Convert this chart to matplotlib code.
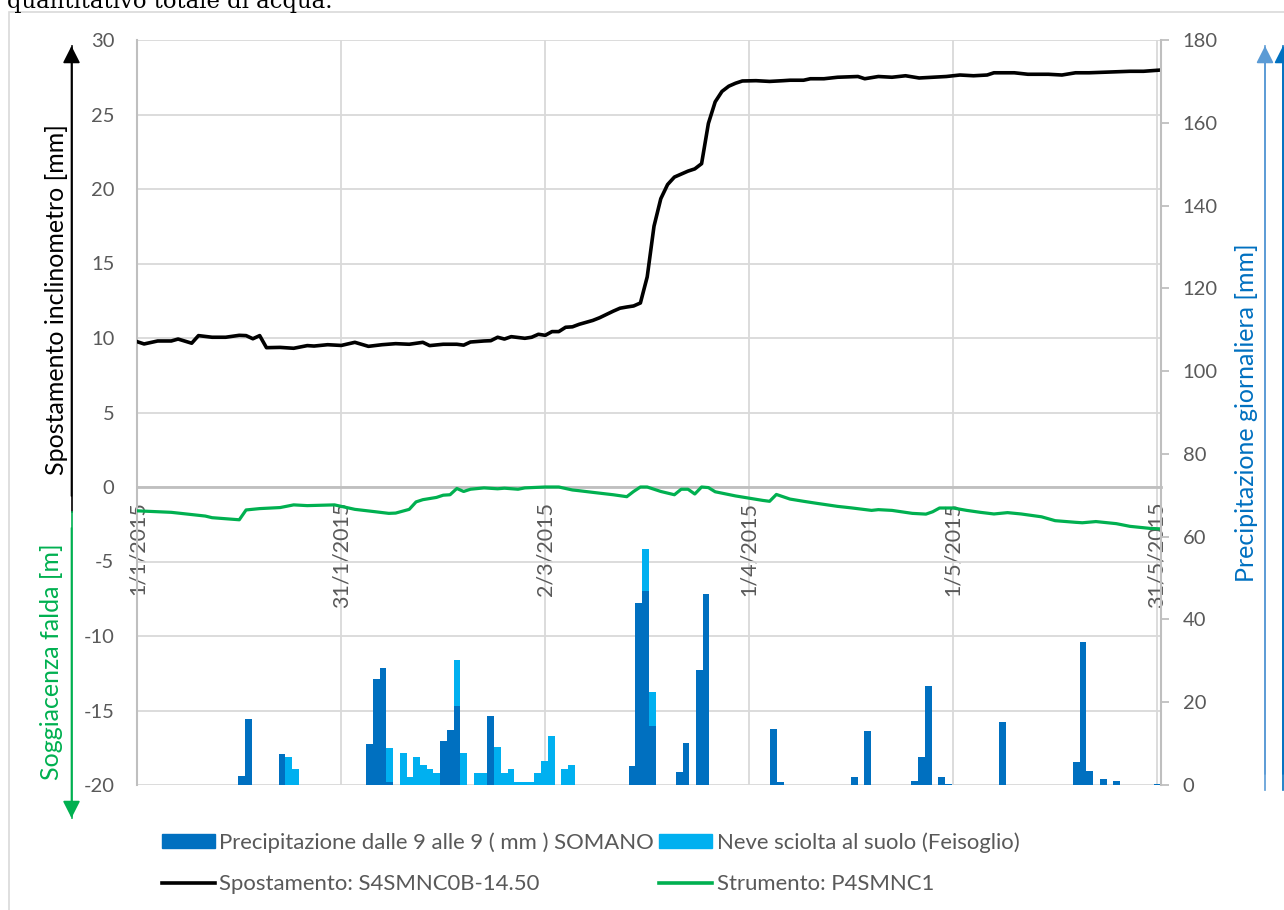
import numpy as np
import matplotlib
matplotlib.use('Agg')
import matplotlib.pyplot as plt
from matplotlib.patches import Patch, Rectangle
from matplotlib.lines import Line2D

plt.rcParams['font.family'] = ['Lato', 'DejaVu Sans']
plt.rcParams['axes.unicode_minus'] = False

GRIGIO = '#595959'

# Asse delle date (giorni dal 1/1/2015)
tick_giorni = [0, 30, 60, 90, 120, 150]
tick_date = ['1/1/2015', '31/1/2015', '2/3/2015', '1/4/2015', '1/5/2015', '31/5/2015']

# Spostamento inclinometro S4SMNC0B-14.50 [mm]
sp_giorni = [0, 1, 3, 5, 6, 8, 9, 11, 13, 15, 16, 17, 18, 19, 21, 23, 25, 26, 28, 30,
             32, 34, 36, 38, 40, 42, 43, 45, 47, 48, 49, 51, 52, 53, 54, 55, 57, 58, 59, 60,
             61, 62, 63, 64, 65, 67, 68, 70, 71, 72, 73, 74, 75, 76, 77, 78, 79, 80, 81, 82,
             83, 84, 85, 86, 87, 88, 89, 91, 93, 95, 96, 98, 99, 101, 103, 106, 107, 109, 111, 113,
             115, 117, 119, 121, 123, 125, 126, 129, 131, 134, 136, 138, 140, 143, 146, 148, 151]
sp_valori = [9.75, 9.6, 9.8, 9.8, 9.93, 9.65, 10.16, 10.05, 10.05, 10.18, 10.16, 9.95, 10.16, 9.35, 9.37, 9.31, 9.49, 9.46, 9.55, 9.5,
             9.71, 9.44, 9.55, 9.62, 9.58, 9.71, 9.49, 9.58, 9.58, 9.52, 9.73, 9.8, 9.82, 10.05, 9.93, 10.09, 9.98, 10.05, 10.25, 10.18,
             10.43, 10.43, 10.72, 10.75, 10.92, 11.18, 11.36, 11.8, 12.0, 12.08, 12.15, 12.35, 14.1, 17.5, 19.35, 20.3, 20.8, 21.0, 21.2, 21.35,
             21.7, 24.4, 25.85, 26.55, 26.9, 27.1, 27.25, 27.27, 27.22, 27.27, 27.3, 27.3, 27.4, 27.4, 27.5, 27.55, 27.4, 27.55, 27.5, 27.6,
             27.45, 27.5, 27.55, 27.65, 27.6, 27.65, 27.8, 27.8, 27.7, 27.7, 27.65, 27.8, 27.8, 27.85, 27.9, 27.9, 28.0]

# Soggiacenza falda P4SMNC1 [m]
fa_giorni = [0, 3, 5, 10, 11, 15, 16, 18, 21, 23, 25, 29, 30, 32, 35, 37, 38, 40, 41, 42,
             44, 45, 46, 47, 48, 49, 51, 53, 54, 56, 57, 60, 62, 64, 65, 67, 70, 72, 73, 74,
             75, 77, 79, 80, 81, 82, 83, 84, 85, 88, 90, 92, 93, 94, 96, 98, 100, 103, 105, 108,
             109, 111, 114, 116, 117, 118, 120, 122, 124, 126, 128, 130, 133, 135, 138, 139, 141, 144, 146, 149, 151]
fa_valori = [-1.6, -1.66, -1.7, -1.95, -2.06, -2.2, -1.54, -1.45, -1.38, -1.2, -1.25, -1.2, -1.3, -1.5, -1.66, -1.77, -1.75, -1.5, -1.0, -0.85,
             -0.7, -0.55, -0.52, -0.1, -0.3, -0.15, -0.06, -0.12, -0.08, -0.15, -0.06, 0.0, 0.0, -0.2, -0.25, -0.36, -0.52, -0.65, -0.3, 0.0,
             0.0, -0.3, -0.52, -0.15, -0.15, -0.47, 0.0, -0.04, -0.32, -0.6, -0.75, -0.9, -0.96, -0.5, -0.81, -0.96, -1.1, -1.3, -1.4, -1.57,
             -1.52, -1.57, -1.77, -1.82, -1.66, -1.41, -1.41, -1.57, -1.7, -1.81, -1.72, -1.81, -2.0, -2.26, -2.37, -2.4, -2.32, -2.46, -2.64, -2.78, -2.82]

# Precipitazione dalle 9 alle 9 (mm) SOMANO
pr_giorni = [15, 16, 21, 34, 35, 36, 37, 45, 46, 47, 52, 73, 74, 75, 76, 80, 81, 83, 84, 94,
             95, 106, 108, 115, 116, 117, 119, 120, 128, 139, 140, 141, 143, 145, 151]
pr_valori = [2.2, 15.9, 7.5, 9.9, 25.6, 28.2, 0.8, 10.6, 13.3, 19.1, 16.7, 4.7, 43.9, 46.9, 14.3, 3.2, 10.1, 27.8, 46.1, 13.5,
             0.8, 1.9, 13.0, 1.0, 6.8, 23.8, 1.9, 0.2, 15.3, 5.6, 34.5, 3.4, 1.4, 0.9, 0.3]

# Neve sciolta al suolo (Feisoglio) [mm]
nv_giorni = [22, 23, 37, 39, 40, 41, 42, 43, 44, 47, 48, 50, 51, 53, 54, 55, 56, 57, 58, 59,
             60, 61, 63, 64, 75, 76]
nv_valori = [6.8, 3.8, 8.1, 7.8, 2.0, 6.8, 4.8, 3.8, 2.8, 11.0, 7.8, 2.8, 2.8, 9.1, 2.8, 3.8, 0.8, 0.8, 0.8, 2.8,
             5.8, 11.8, 3.8, 4.8, 10.1, 8.2]

W, H = 1284, 910
fig = plt.figure(figsize=(W / 100, H / 100), dpi=100)


def fx(x):
    return x / W


def fy(y):
    return 1 - y / H


# area del grafico
x0, x1, y0, y1 = 137.3, 1160.5, 40, 785
rect = [fx(x0), fy(y1), fx(x1) - fx(x0), fy(y0) - fy(y1)]

ax = fig.add_axes(rect)
ax.set_xlim(0, 150.5)
ax.set_ylim(-20, 30)
ax.set_yticks(np.arange(-20, 31, 5))
ax.set_xticks(tick_giorni)
ax.set_xticklabels(tick_date)
ax.grid(True, color='#D9D9D9', lw=1.3)
ax.set_axisbelow(True)
for s in ['top', 'right']:
    ax.spines[s].set_visible(False)
ax.spines['left'].set_color('#BFBFBF')
ax.spines['left'].set_linewidth(1.5)
ax.spines['bottom'].set_position(('data', 0))
ax.spines['bottom'].set_color('#BFBFBF')
ax.spines['bottom'].set_linewidth(2)
ax.tick_params(axis='y', length=0, pad=16.5, labelsize=14.5, labelcolor=GRIGIO)
ax.tick_params(axis='x', length=0, pad=10.5, labelsize=15.5, labelcolor=GRIGIO, labelrotation=90)

ax.plot(sp_giorni, sp_valori, color='black', lw=2.6, solid_joinstyle='round', zorder=4)
ax.plot(fa_giorni, fa_valori, color='#00B050', lw=2.3, solid_joinstyle='round', zorder=4)

# istogramma su asse secondario (categorie giornaliere 1/1 - 1/6)
axb = fig.add_axes(rect)
axb.patch.set_visible(False)
axb.set_xlim(0, 152)
axb.set_ylim(0, 180)
axb.set_yticks(np.arange(0, 181, 20))
axb.yaxis.tick_right()
axb.xaxis.set_visible(False)
for s in ['top', 'left', 'bottom']:
    axb.spines[s].set_visible(False)
axb.spines['right'].set_color('#BFBFBF')
axb.spines['right'].set_linewidth(1.5)
axb.tick_params(axis='y', length=6, width=1.3, color='#BFBFBF', pad=10,
                labelsize=14.5, labelcolor=GRIGIO)

prec = dict(zip(pr_giorni, pr_valori))
base_neve = [prec.get(g, 0) for g in nv_giorni]
axb.bar(pr_giorni, pr_valori, width=1, align='edge', color='#0070C0', lw=0)
axb.bar(nv_giorni, nv_valori, width=1, align='edge', bottom=base_neve, color='#00B0F0', lw=0)

# titoli degli assi
fig.text(fx(57), fy(300), 'Spostamento inclinometro [mm]', rotation=90, ha='center', va='center',
         fontsize=18, color='black')
fig.text(fx(52), fy(662), 'Soggiacenza falda [m]', rotation=90, ha='center', va='center',
         fontsize=18, color='#00B050')
fig.text(fx(1246), fy(413), 'Precipitazione giornaliera [mm]', rotation=90, ha='center', va='center',
         fontsize=18, color='#0070C0')

# frecce
def freccia(xa, ya, xb, yb, col):
    fig.add_artist(Line2D([fx(xa), fx(xb)], [fy(ya), fy(yb)], color=col, lw=1.2,
                          transform=fig.transFigure))
    ax.annotate('', xy=(xb, H - yb), xytext=(xa, H - ya + (16 if yb < ya else -16)),
                xycoords='figure pixels', textcoords='figure pixels',
                arrowprops=dict(arrowstyle='-|>,head_length=0.75,head_width=0.38', color=col,
                                lw=1.2, shrinkA=0, shrinkB=0, mutation_scale=14))


freccia(71.5, 512, 71.5, 46, 'black')
freccia(71.5, 512, 71.5, 818, '#00B050')
freccia(1265, 790, 1265, 46, '#5B9BD5')
freccia(1283, 790, 1283, 46, '#0070C0')

# cornice e testo del documento
fig.add_artist(Rectangle((fx(9), -0.1), 2, fy(12) + 0.1, transform=fig.transFigure,
                         fill=False, ec='#D9D9D9', lw=1.2))
fig.text(fx(7), fy(8), 'quantitativo totale di acqua.', family='DejaVu Serif', fontsize=16.4,
         ha='left', va='baseline', color='black')

# legenda
maniglie = [Patch(color='#0070C0'), Patch(color='#00B0F0'),
            Line2D([], [], color='black', lw=2.6), Line2D([], [], color='#00B050', lw=2.6)]
etichette = ['Precipitazione dalle 9 alle 9 ( mm ) SOMANO', 'Neve sciolta al suolo (Feisoglio)',
             'Spostamento: S4SMNC0B-14.50', 'Strumento: P4SMNC1']
fig.legend([maniglie[0], maniglie[2], maniglie[1], maniglie[3]],
           [etichette[0], etichette[2], etichette[1], etichette[3]],
           ncol=2, loc='upper left', bbox_to_anchor=(fx(144), fy(815)), frameon=False,
           fontsize=15.9, labelcolor=GRIGIO, handlelength=2.4, handleheight=0.6,
           handletextpad=0.2, columnspacing=0.25, labelspacing=0.95, borderpad=0.3)

fig.savefig('out.png', dpi=100)
